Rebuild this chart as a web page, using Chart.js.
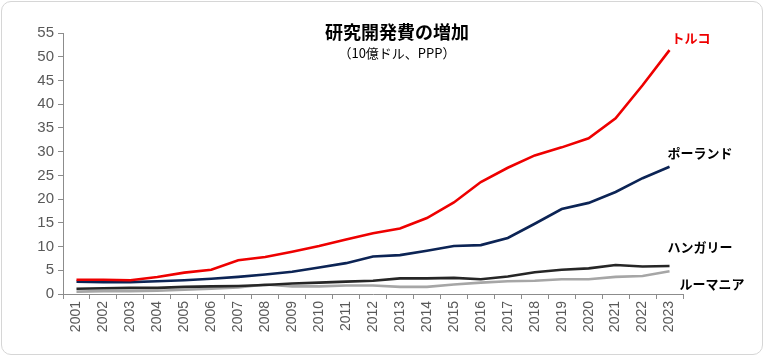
<!DOCTYPE html>
<html><head><meta charset="utf-8">
<script src="https://cdn.jsdelivr.net/npm/chart.js@4"></script>
<style>
html,body{margin:0;padding:0;background:#fff;width:768px;height:357px;overflow:hidden}
#card{position:absolute;left:1px;top:1px;width:760px;height:352px;border:1px solid #d6d6d6;border-radius:10px}
#wrap{position:absolute;left:0;top:0;width:768px;height:357px}
</style></head><body>
<div id="card"></div>
<div id="wrap"><canvas id="c" width="768" height="357"></canvas></div>
<script>
const years = ["2001","2002","2003","2004","2005","2006","2007","2008","2009","2010","2011","2012","2013","2014","2015","2016","2017","2018","2019","2020","2021","2022","2023"];
const turkey  = [3.0,3.0,2.9,3.6,4.5,5.1,7.1,7.8,8.9,10.1,11.5,12.8,13.8,16.0,19.3,23.6,26.6,29.2,30.9,32.8,37.0,44.0,51.4];
const poland  = [2.6,2.5,2.5,2.7,2.9,3.2,3.6,4.1,4.7,5.6,6.5,7.9,8.2,9.1,10.1,10.3,11.8,14.8,17.9,19.2,21.5,24.4,26.8];
const hungary = [1.1,1.2,1.3,1.3,1.5,1.6,1.7,1.9,2.2,2.4,2.6,2.8,3.3,3.3,3.4,3.1,3.7,4.6,5.1,5.4,6.1,5.8,5.9];
const romania = [0.5,0.6,0.6,0.7,0.9,1.1,1.4,2.0,1.6,1.6,1.8,1.8,1.5,1.5,2.0,2.4,2.7,2.8,3.1,3.1,3.6,3.8,4.8];
const seriesNames = ["トルコ","ポーランド","ハンガリー","ルーマニア"];
const yTicks = [0,5,10,15,20,25,30,35,40,45,50,55];
const titleText = "研究開発費の増加";
const subtitleText = "（10億ドル、PPP）";

const colors = ["#ee0000","#0c2455","#262626","#a6a6a6"];
const labelColors = ["#ee0000","#000","#000","#000"];
const labelOffsets = [[2,-12],[-2,-14],[-2,-19],[10,13]];

const overlay = {
  id:'overlay',
  afterDraw(chart){
    const ctx = chart.ctx;
    ctx.save();
    ctx.fillStyle = '#000';
    ctx.textAlign = 'center';
    ctx.textBaseline = 'middle';
    ctx.font = 'bold 18px "Noto Sans CJK JP"';
    ctx.fillText(titleText, 397, 32);
    ctx.font = '13px "Noto Sans CJK JP"';
    ctx.fillText(subtitleText, 397, 53);
    ctx.textAlign = 'left';
    ctx.font = 'bold 13px "Noto Sans CJK JP"';
    chart.data.datasets.forEach((ds,i)=>{
      const meta = chart.getDatasetMeta(i);
      const p = meta.data[meta.data.length-1];
      ctx.fillStyle = labelColors[i];
      ctx.fillText(ds.label, p.x + labelOffsets[i][0], p.y + labelOffsets[i][1]);
    });
    ctx.restore();
  }
};

new Chart(document.getElementById('c'), {
  type:'line',
  data:{
    labels: years,
    datasets:[turkey,poland,hungary,romania].map((d,i)=>({
      label: seriesNames[i], data: d, borderColor: colors[i], backgroundColor: colors[i],
      borderWidth: 2.6, pointRadius: 0, tension: 0, fill:false, order: i
    }))
  },
  options:{
    responsive:false, animation:false, devicePixelRatio:1,
    layout:{padding:{left:0,top:33,right:85,bottom:0}},
    plugins:{legend:{display:false},tooltip:{enabled:false},title:{display:false}},
    scales:{
      x:{
        offset:true,
        grid:{display:true,drawOnChartArea:false,drawTicks:true,tickLength:5,offset:true,color:'#8c8c8c'},
        border:{display:true,color:'#8c8c8c',width:1},
        ticks:{color:'#595959',font:{family:'"Liberation Sans", Arial',size:14},maxRotation:90,minRotation:90,autoSkip:false,padding:2},
        afterFit(s){ s.height = 63; }
      },
      y:{
        min:0,max:55,
        afterBuildTicks(s){ s.ticks = yTicks.map(v=>({value:v})); },
        grid:{display:true,drawOnChartArea:false,drawTicks:true,tickLength:5,color:'#8c8c8c'},
        border:{display:true,color:'#8c8c8c',width:1},
        ticks:{color:'#595959',font:{family:'"Liberation Sans", Arial',size:15},padding:4},
        afterFit(s){ s.width = 63; }
      }
    }
  },
  plugins:[overlay]
});
</script>
</body></html>
